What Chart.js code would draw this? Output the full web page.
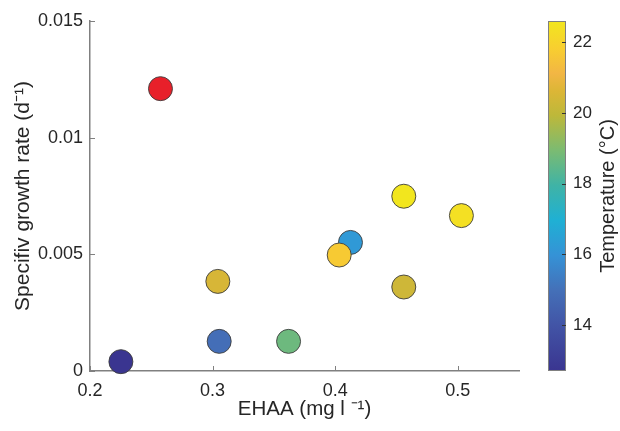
<!DOCTYPE html>
<html><head><meta charset="utf-8">
<script src="https://cdn.jsdelivr.net/npm/chart.js@4/dist/chart.umd.min.js"></script>
<style>html,body{margin:0;padding:0;background:#fff}</style>
</head><body>
<canvas id="c" width="620" height="431"></canvas>
<script>
// ---- data ----
const ehaa        = [0.2252, 0.3054, 0.3620, 0.3043, 0.4560, 0.4125, 0.4033, 0.4560, 0.5030];
const growthRate  = [0.0004, 0.00127, 0.00127, 0.00384, 0.0036, 0.00551, 0.00497, 0.00749, 0.00666];
const temperature = [12.7, 14.9, 18.7, 20.5, 20.3, 16.2, 21.7, 22.6, 22.4];
const outlierEhaa = [0.2575];
const outlierRate = [0.0121];
const xTicks = [0.2, 0.3, 0.4, 0.5];
const yTicks = [0, 0.005, 0.01, 0.015];
const tempTicks = [14, 16, 18, 20, 22];

// parula-like colormap as rendered in the figure (position 0..1, hex)
const cmap = [
  [0.00, '#3a3590'], [0.13, '#4254a6'], [0.23, '#4470b8'], [0.33, '#3592d6'],
  [0.43, '#1fb0d4'], [0.53, '#3fb3a6'], [0.63, '#7bbb72'], [0.73, '#bdb83a'],
  [0.80, '#dcb636'], [0.85, '#f2b644'], [0.92, '#f8ce30'], [1.00, '#f2e61e']
];
const tMin = Math.min(...temperature), tMax = Math.max(...temperature);
function hex2rgb(h) { return [1,3,5].map(i => parseInt(h.substr(i, 2), 16)); }
function cmapColor(t) {
  t = Math.max(0, Math.min(1, t));
  for (let k = 0; k < cmap.length - 1; k++) {
    const a = cmap[k], b = cmap[k + 1];
    if (t >= a[0] && t <= b[0]) {
      const f = (t - a[0]) / (b[0] - a[0]);
      const ca = hex2rgb(a[1]), cb = hex2rgb(b[1]);
      const c = ca.map((v, j) => Math.round(v + f * (cb[j] - v)));
      return `rgb(${c[0]},${c[1]},${c[2]})`;
    }
  }
  return cmap[cmap.length - 1][1];
}
const pointColors = temperature.map(v => cmapColor((v - tMin) / (tMax - tMin)));

const FONT = '"Liberation Sans", Arial, Helvetica, sans-serif';
const TXT = '#262626';
const AX = '#808080';

const decor = {
  id: 'decor',
  afterDraw(chart) {
    const {ctx, chartArea: a, scales} = chart;
    const x = scales.x, y = scales.y, t = scales.temp;
    ctx.save();
    ctx.strokeStyle = AX; ctx.lineWidth = 1;
    xTicks.forEach(v => {
      const px = Math.round(x.getPixelForValue(v)) + 0.5;
      ctx.beginPath(); ctx.moveTo(px, a.bottom); ctx.lineTo(px, a.bottom - 5); ctx.stroke();
    });
    yTicks.forEach(v => {
      const py = Math.round(y.getPixelForValue(v)) + 0.5;
      ctx.beginPath(); ctx.moveTo(a.left, py); ctx.lineTo(a.left + 5, py); ctx.stroke();
    });
    // colorbar
    const cbL = a.right + 29, cbW = 18;
    const top = t.getPixelForValue(tMax), bot = t.getPixelForValue(tMin);
    const g = ctx.createLinearGradient(0, bot, 0, top);
    cmap.forEach(p => g.addColorStop(p[0], p[1]));
    ctx.fillStyle = g;
    ctx.fillRect(cbL, top, cbW, bot - top);
    ctx.strokeStyle = AX; ctx.lineWidth = 1;
    ctx.strokeRect(cbL + 0.5, top + 0.5, cbW - 1, bot - top - 1);
    ctx.strokeStyle = '#333';
    tempTicks.forEach(v => {
      const py = Math.round(t.getPixelForValue(v)) + 0.5;
      ctx.beginPath(); ctx.moveTo(cbL + cbW, py); ctx.lineTo(cbL + cbW - 4, py); ctx.stroke();
    });
    // colorbar label
    ctx.translate(a.right + 89, (top + bot) / 2);
    ctx.rotate(-Math.PI / 2);
    ctx.textAlign = 'center'; ctx.textBaseline = 'middle';
    ctx.font = '20px ' + FONT; ctx.fillStyle = TXT;
    ctx.fillText('Temperature (°C)', 0, 0);
    ctx.restore();
  }
};

new Chart(document.getElementById('c'), {
  type: 'scatter',
  data: {
    datasets: [
      {
        label: 'samples',
        data: ehaa.map((v, i) => ({x: v, y: growthRate[i]})),
        backgroundColor: pointColors,
        borderColor: '#3d3d3d',
        borderWidth: 0.9,
        pointRadius: 12,
        clip: false
      },
      {
        label: 'outlier',
        data: outlierEhaa.map((v, i) => ({x: v, y: outlierRate[i]})),
        backgroundColor: '#e8202a',
        borderColor: '#3d3d3d',
        borderWidth: 0.9,
        pointRadius: 12,
        clip: false
      }
    ]
  },
  options: {
    responsive: false,
    animation: false,
    layout: {padding: {top: 21, left: 0, right: 0, bottom: 0}},
    plugins: {legend: {display: false}, tooltip: {enabled: false}},
    scales: {
      x: {
        type: 'linear', min: 0.2, max: 0.55,
        afterBuildTicks: s => { s.ticks = xTicks.map(v => ({value: v})); },
        afterFit: s => { s.height = 60; },
        grid: {display: false, drawTicks: false},
        border: {display: true, color: AX, width: 1.5},
        ticks: {padding: 9, color: TXT, font: {family: FONT, size: 18}, maxRotation: 0, autoSkip: false,
                callback: v => String(v)},
        title: {display: true, text: 'EHAA (mg l ⁻¹)', color: TXT, font: {family: FONT, size: 20.5},
                padding: {top: 0, bottom: 9}}
      },
      y: {
        type: 'linear', min: 0, max: 0.015,
        afterBuildTicks: s => { s.ticks = yTicks.map(v => ({value: v})); },
        afterFit: s => { s.width = 90; },
        grid: {display: false, drawTicks: false},
        border: {display: true, color: AX, width: 1.5},
        ticks: {padding: 7, color: TXT, font: {family: FONT, size: 18}, autoSkip: false,
                callback: v => String(v)},
        title: {display: true, text: 'Specifiv growth rate (d⁻¹)', color: TXT, font: {family: FONT, size: 21},
                padding: {top: 11, bottom: 0}}
      },
      temp: {
        type: 'linear', position: 'right', min: tMin, max: tMax,
        afterBuildTicks: s => { s.ticks = tempTicks.map(v => ({value: v})); },
        afterFit: s => { s.width = 101; },
        grid: {display: true, drawOnChartArea: false, drawTicks: true, tickLength: 47,
               color: 'rgba(0,0,0,0)', tickColor: 'rgba(0,0,0,0)'},
        border: {display: false},
        ticks: {padding: 7, color: TXT, font: {family: FONT, size: 17}, autoSkip: false,
                callback: v => String(v)}
      }
    }
  },
  plugins: [decor]
});
</script>
</body></html>
